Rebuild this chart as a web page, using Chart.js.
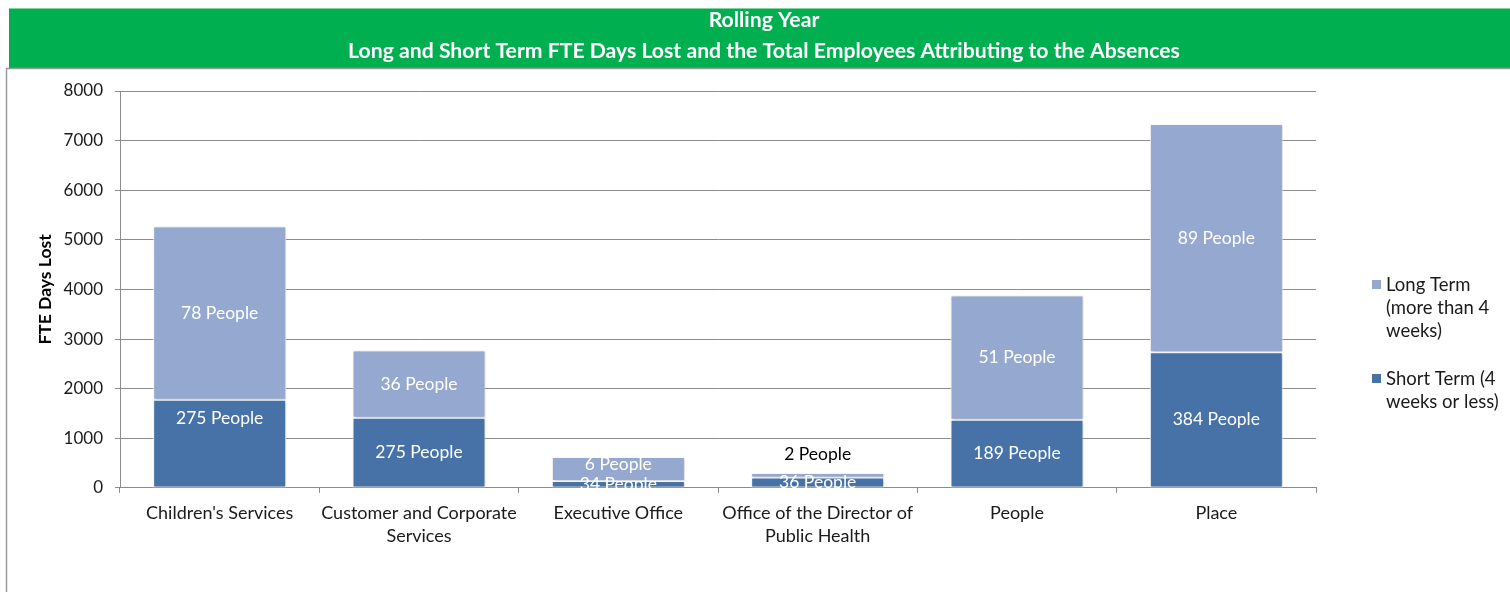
<!DOCTYPE html>
<html>
<head>
<meta charset="utf-8">
<script src="https://cdn.jsdelivr.net/npm/chart.js@4/dist/chart.umd.min.js"></script>
<style>
  html, body { margin: 0; padding: 0; background: #fff; }
  #wrap { width: 1510px; height: 592px; position: relative; }
</style>
</head>
<body>
<div id="wrap"><canvas id="absenceChart"></canvas></div>
<script>
// Data
const categories = [
  ["Children's Services"],
  ['Customer and Corporate', 'Services'],
  ['Executive Office'],
  ['Office of the Director of', 'Public Health'],
  ['People'],
  ['Place']
];
const shortTermDays = [1775, 1415, 140, 210, 1375, 2735];
const longTermDays = [3495, 1355, 485, 90, 2505, 4600];
const shortTermPeople = [275, 275, 34, 36, 189, 384];
const longTermPeople = [78, 36, 6, 2, 51, 89];
const yTicks = [0, 1000, 2000, 3000, 4000, 5000, 6000, 7000, 8000];

const FONT = 'Lato, "Open Sans", sans-serif';
const gridGrey = '#8c8c8c';

// green header band and the frame line under it
const backdrop = {
  id: 'backdrop',
  beforeDraw(chart) {
    const c = chart.ctx;
    c.save();
    c.fillStyle = '#ffffff';
    c.fillRect(0, 0, chart.width, chart.height);
    c.fillStyle = '#00b050';
    c.fillRect(9, 8, chart.width - 9, 60);
    c.fillStyle = '#7fd3a3';
    c.fillRect(9, 8, chart.width - 9, 1);
    c.strokeStyle = '#9a9a9a';
    c.lineWidth = 1.5;
    c.beginPath();
    c.moveTo(6.5, chart.height);
    c.lineTo(6.5, 68.5);
    c.lineTo(chart.width, 68.5);
    c.stroke();
    c.restore();
  }
};

// soft shadow behind the bars
const barShadow = {
  id: 'barShadow',
  beforeDatasetsDraw(chart) {
    const c = chart.ctx;
    c.save();
    c.shadowColor = 'rgba(0,0,0,0.28)';
    c.shadowBlur = 3;
    c.shadowOffsetX = 1;
    c.shadowOffsetY = 1;
  },
  afterDatasetsDraw(chart) {
    chart.ctx.restore();
  }
};

// "N People" labels inside each segment
const peopleLabels = {
  id: 'peopleLabels',
  afterDatasetsDraw(chart, args, opts) {
    const c = chart.ctx;
    const area = chart.chartArea;
    c.save();
    c.font = '17.5px ' + FONT;
    c.textAlign = 'center';
    c.textBaseline = 'middle';
    chart.data.datasets.forEach((ds, di) => {
      const meta = chart.getDatasetMeta(di);
      meta.data.forEach((bar, i) => {
        const text = ds.people[i] + ' People';
        const top = Math.min(bar.y, bar.base);
        const h = Math.abs(bar.base - bar.y);
        if (h < 8 && di === chart.data.datasets.length - 1) {
          c.fillStyle = '#000';
          c.fillText(text, bar.x, top - 19);
          return;
        }
        const shift = (opts.shift[di] && opts.shift[di][i]) || 0;
        c.save();
        c.beginPath();
        c.rect(area.left, area.top, area.right - area.left, area.bottom - area.top);
        c.clip();
        c.fillStyle = '#ffffff';
        c.fillText(text, bar.x, top + h / 2 + shift);
        c.restore();
      });
    });
    c.restore();
  }
};

// legend on the right, wrapped like the original
const sideLegend = {
  id: 'sideLegend',
  afterDraw(chart, args, opts) {
    const c = chart.ctx;
    const area = chart.chartArea;
    const x = area.right + 56;
    let y = area.top + 194;
    c.save();
    c.font = '18.5px ' + FONT;
    c.textBaseline = 'middle';
    c.textAlign = 'left';
    opts.items.forEach(item => {
      c.fillStyle = item.color;
      c.fillRect(x, y - 5, 9, 9);
      c.fillStyle = '#1a1a1a';
      item.lines.forEach((ln, k) => c.fillText(ln, x + 14, y + k * 23));
      y += item.lines.length * 23 + 25;
    });
    c.restore();
  }
};

const ctx = document.getElementById('absenceChart').getContext('2d');

new Chart(ctx, {
  type: 'bar',
  data: {
    labels: categories,
    datasets: [
      {
        label: 'Short Term (4 weeks or less)',
        data: shortTermDays,
        people: shortTermPeople,
        backgroundColor: '#4672a8',
        borderColor: '#ffffff',
        borderWidth: 1,
        borderSkipped: false
      },
      {
        label: 'Long Term (more than 4 weeks)',
        data: longTermDays,
        people: longTermPeople,
        backgroundColor: '#95a9d0',
        borderColor: '#ffffff',
        borderWidth: 1,
        borderSkipped: false
      }
    ]
  },
  options: {
    responsive: true,
    maintainAspectRatio: false,
    animation: false,
    barPercentage: 0.667,
    categoryPercentage: 1,
    layout: {
      padding: { top: 0, left: 18, right: 0, bottom: 35 }
    },
    scales: {
      x: {
        stacked: true,
        grid: {
          offset: true,
          drawOnChartArea: false,
          color: gridGrey,
          tickLength: 5
        },
        border: { color: gridGrey, width: 1 },
        ticks: {
          color: '#1a1a1a',
          padding: 9,
          font: { family: FONT, size: 18, lineHeight: 1.28 },
          maxRotation: 0,
          autoSkip: false
        }
      },
      y: {
        stacked: true,
        min: 0,
        max: 8000,
        afterBuildTicks(scale) {
          scale.ticks = yTicks.map(v => ({ value: v }));
        },
        afterFit(scale) {
          scale.width = 102;
        },
        grid: { color: gridGrey, tickLength: 5 },
        border: { color: gridGrey, width: 1 },
        ticks: {
          color: '#1a1a1a',
          padding: 12,
          font: { family: FONT, size: 17 },
          callback: v => String(v)
        },
        title: {
          display: true,
          text: 'FTE Days Lost',
          color: '#000',
          padding: { top: 16.5, bottom: 4 },
          font: { family: FONT, size: 17.5, weight: 'bold', lineHeight: 1.2 }
        }
      },
      // empty right-hand axis that only keeps room for the legend
      side: {
        type: 'linear',
        position: 'right',
        display: true,
        grid: { display: false },
        border: { display: false },
        ticks: { display: false },
        afterFit(scale) {
          scale.width = 194;
        }
      }
    },
    plugins: {
      legend: { display: false },
      tooltip: { enabled: false },
      title: {
        display: true,
        text: ['Rolling Year', 'Long and Short Term FTE Days Lost and the Total Employees Attributing to the Absences'],
        color: '#ffffff',
        font: { family: FONT, size: 21.2, weight: 'bold', lineHeight: 31 / 21.2 },
        padding: { top: 5, bottom: 24 }
      },
      peopleLabels: {
        shift: { 0: { 0: -25 }, 1: { 2: -5 } }
      },
      sideLegend: {
        items: [
          { color: '#95a9d0', lines: ['Long Term', '(more than 4', 'weeks)'] },
          { color: '#4672a8', lines: ['Short Term (4', 'weeks or less)'] }
        ]
      }
    }
  },
  plugins: [backdrop, barShadow, peopleLabels, sideLegend]
});
</script>
</body>
</html>
